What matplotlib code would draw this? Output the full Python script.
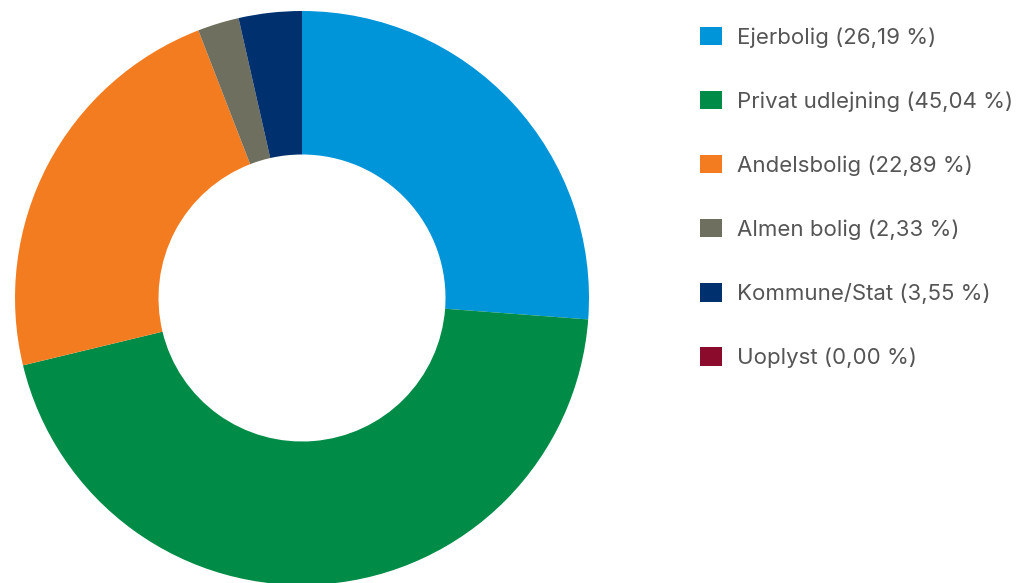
import matplotlib
matplotlib.use("Agg")
import matplotlib.pyplot as plt

# housing tenure shares (%)
categories = ["Ejerbolig", "Privat udlejning", "Andelsbolig", "Almen bolig",
              "Kommune/Stat", "Uoplyst"]
shares = [26.19, 45.04, 22.89, 2.33, 3.55, 0.00]
colors = ["#0094d8", "#008c47", "#f47c20", "#6e6f5f", "#00306e", "#8a0b2c"]

labels = ["%s (%s %%)" % (c, ("%.2f" % v).replace(".", ",")) for c, v in zip(categories, shares)]

plt.rcParams['font.family'] = ['Inter', 'DejaVu Sans']

fig = plt.figure(figsize=(10.33, 5.83), dpi=100)
ax = fig.add_axes([15/1033, -2/583, 574/1033, 574/583])

wedges, _ = ax.pie(shares, colors=colors, startangle=90, counterclock=False,
                   radius=1.0, wedgeprops=dict(width=0.5, linewidth=0))
ax.set_aspect('equal')
ax.set_xlim(-1, 1)
ax.set_ylim(-1, 1)
ax.axis('off')

leg = fig.legend(wedges, labels, loc='upper left',
                 bbox_to_anchor=(700/1033, 1 - 27/583),
                 frameon=False, fontsize=16,
                 handlelength=0.99, handleheight=0.9, handletextpad=0.68,
                 labelspacing=1.94, borderpad=0, borderaxespad=0)
for t in leg.get_texts():
    t.set_color('#555555')

fig.savefig("out.png", dpi=100)
